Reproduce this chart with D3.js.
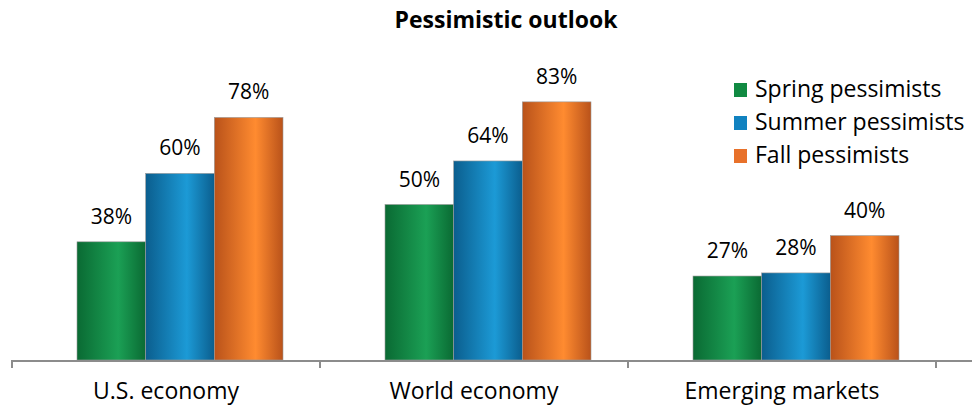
<!DOCTYPE html>
<html>
<head>
<meta charset="utf-8">
<script src="https://cdn.jsdelivr.net/npm/d3@7"></script>
<style>
	body { margin: 0; background: #fff; }
	svg { display: block; font-family: "Open Sans", "DejaVu Sans", sans-serif; }
</style>
</head>
<body>
<svg id="chart" width="972" height="408"></svg>
<script>
// chart data
var categories = ["U.S. economy", "World economy", "Emerging markets"];
var seriesNames = ["Spring pessimists", "Summer pessimists", "Fall pessimists"];
var spring = [38, 50, 27];
var summer = [60, 64, 28];
var fall = [78, 83, 40];
var series = [spring, summer, fall];

// edge / middle colours for the shaded bars
var edgeColors = ["#0a6a33", "#0b5e8e", "#b9521a"];
var midColors = ["#1ba055", "#1c9ad6", "#ff8b30"];
var legendColors = ["#118a42", "#1182c0", "#e8712a"];

var svg = d3.select("#chart"),
	width = 972,
	height = 408;

var x0 = d3.scaleBand()
	.domain(categories)
	.range([12, 936])
	.paddingInner(0)
	.paddingOuter(0);

// bars sit a little right of the band centre, like the original
var barShift = 14;
var x1 = d3.scaleBand()
	.domain(d3.range(seriesNames.length))
	.range([0, 206]);

var y = d3.scaleLinear()
	.domain([0, 100])
	.range([360, 49]);

var defs = svg.append("defs");
edgeColors.forEach(function(c, i) {
	var g = defs.append("linearGradient")
		.attr("id", "grad" + i)
		.attr("x1", "0%").attr("x2", "100%")
		.attr("y1", "0%").attr("y2", "0%");
	g.append("stop").attr("offset", "0%").attr("stop-color", c);
	g.append("stop").attr("offset", "60%").attr("stop-color", midColors[i]);
	g.append("stop").attr("offset", "100%").attr("stop-color", c);
});

// title
svg.append("text")
	.attr("x", width / 2 + 20)
	.attr("y", 28)
	.attr("text-anchor", "middle")
	.style("font-weight", "bold")
	.style("font-size", "23px")
	.text("Pessimistic outlook");

// bars
var groups = svg.selectAll("g.group")
	.data(categories)
	.enter().append("g")
	.attr("class", "group")
	.attr("transform", function(d) {
		return "translate(" + (x0(d) + x0.bandwidth() / 2 - 103 + barShift) + ",0)";
	});

groups.selectAll("rect")
	.data(function(d, ci) { return series.map(function(s, si) { return { s: si, v: s[ci] }; }); })
	.enter().append("rect")
	.attr("x", function(d) { return x1(d.s); })
	.attr("width", x1.bandwidth())
	.attr("y", function(d) { return y(d.v); })
	.attr("height", function(d) { return y(0) - y(d.v); })
	.attr("fill", function(d) { return "url(#grad" + d.s + ")"; })
	.attr("stroke", "#9a9a9a")
	.attr("stroke-width", 0.6);

groups.selectAll("text.val")
	.data(function(d, ci) { return series.map(function(s, si) { return { s: si, v: s[ci] }; }); })
	.enter().append("text")
	.attr("class", "val")
	.attr("x", function(d) { return x1(d.s) + x1.bandwidth() / 2; })
	.attr("y", function(d) { return y(d.v) - 18; })
	.attr("text-anchor", "middle")
	.style("font-size", "21px")
	.text(function(d) { return d.v + "%"; });

// x axis
var axis = svg.append("g");
axis.append("line")
	.attr("x1", 11).attr("x2", width)
	.attr("y1", y(0) + 1).attr("y2", y(0) + 1)
	.attr("stroke", "#8c8c8c")
	.attr("stroke-width", 2);
axis.selectAll("line.tick")
	.data(categories.concat(["end"]))
	.enter().append("line")
	.attr("class", "tick")
	.attr("x1", function(d, i) { return 12 + i * x0.bandwidth(); })
	.attr("x2", function(d, i) { return 12 + i * x0.bandwidth(); })
	.attr("y1", y(0)).attr("y2", y(0) + 8)
	.attr("stroke", "#8c8c8c")
	.attr("stroke-width", 2);
axis.selectAll("text")
	.data(categories)
	.enter().append("text")
	.attr("x", function(d) { return x0(d) + x0.bandwidth() / 2; })
	.attr("y", 399)
	.attr("text-anchor", "middle")
	.style("font-size", "23px")
	.text(function(d) { return d; });

// legend
var legend = svg.append("g").attr("transform", "translate(734,83)");
var item = legend.selectAll("g")
	.data(seriesNames)
	.enter().append("g")
	.attr("transform", function(d, i) { return "translate(0," + (i * 33) + ")"; });
item.append("rect")
	.attr("width", 13).attr("height", 14)
	.attr("fill", function(d, i) { return legendColors[i]; });
item.append("text")
	.attr("x", 21)
	.attr("y", 14)
	.style("font-size", "23px")
	.text(function(d) { return d; });
</script>
</body>
</html>
